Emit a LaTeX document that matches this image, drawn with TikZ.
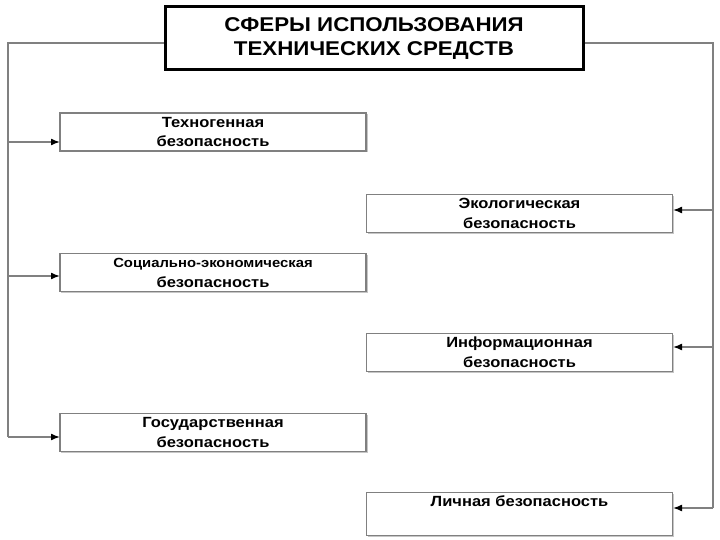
\documentclass[tikz,border=0pt]{standalone}
\usepackage{fontspec}
\setmainfont{Liberation Sans}
\newfontfamily\widesans[FakeStretch=1.12]{Liberation Sans}
\usetikzlibrary{arrows.meta,shadows}

\begin{document}
\begin{tikzpicture}[x=1bp,y=-1bp]
        \tikzstyle{title} = [draw=black, line width=3bp, fill=white, minimum width=418bp, minimum height=63bp, align=center, font=\widesans\bfseries\fontsize{20}{24}\selectfont]
        \tikzstyle{box} = [draw=gray, line width=1.2bp, fill=white, minimum width=306bp, minimum height=38bp, align=center, font=\widesans\bfseries\fontsize{14.8}{20}\selectfont, drop shadow={shadow xshift=1.5bp, shadow yshift=-1.5bp, fill=gray!45, opacity=1}]
        \tikzstyle{edge} = [draw=gray, line width=1.5bp]
        \tikzstyle{arrow} = [edge, -{Latex[length=9bp, width=7bp, color=black]}]
        \useasboundingbox (0,0) rectangle (720,540);
        \node[title] (title) at (374,38.5) {СФЕРЫ ИСПОЛЬЗОВАНИЯ\\ТЕХНИЧЕСКИХ СРЕДСТВ};
        \node[box] (node1) at (213,132) {Техногенная\\безопасность};
        \node[box] (node2) at (213,272.5) {\fontsize{13.3}{20}\selectfont Социально-экономическая\\безопасность};
        \node[box] (node3) at (213,432.5) {Государственная\\безопасность};
        \node[box] (node4) at (519.5,213.5) {Экологическая\\безопасность};
        \node[box] (node5) at (519.5,352.5) {Информационная\\безопасность};
        \node[box] (node6) at (519.5,514) {Личная безопасность\\\strut};
        \coordinate (lbend) at (8,43);
        \coordinate (rbend) at (713,43);
        \coordinate (in1) at (60,142);
        \coordinate (in2) at (60,276);
        \coordinate (in3) at (60,437);
        \coordinate (in4) at (673,210);
        \coordinate (in5) at (673,347);
        \coordinate (in6) at (673,508);
        \draw[edge] (title.west |- lbend) -- (lbend) -- (lbend |- in3);
        \draw[edge] (title.east |- rbend) -- (rbend) -- (rbend |- in6);
        \draw[arrow] (lbend |- in1) -- (in1);
        \draw[arrow] (lbend |- in2) -- (in2);
        \draw[arrow] (lbend |- in3) -- (in3);
        \draw[arrow] (rbend |- in4) -- (in4);
        \draw[arrow] (rbend |- in5) -- (in5);
        \draw[arrow] (rbend |- in6) -- (in6);
    \end{tikzpicture}
\end{document}
